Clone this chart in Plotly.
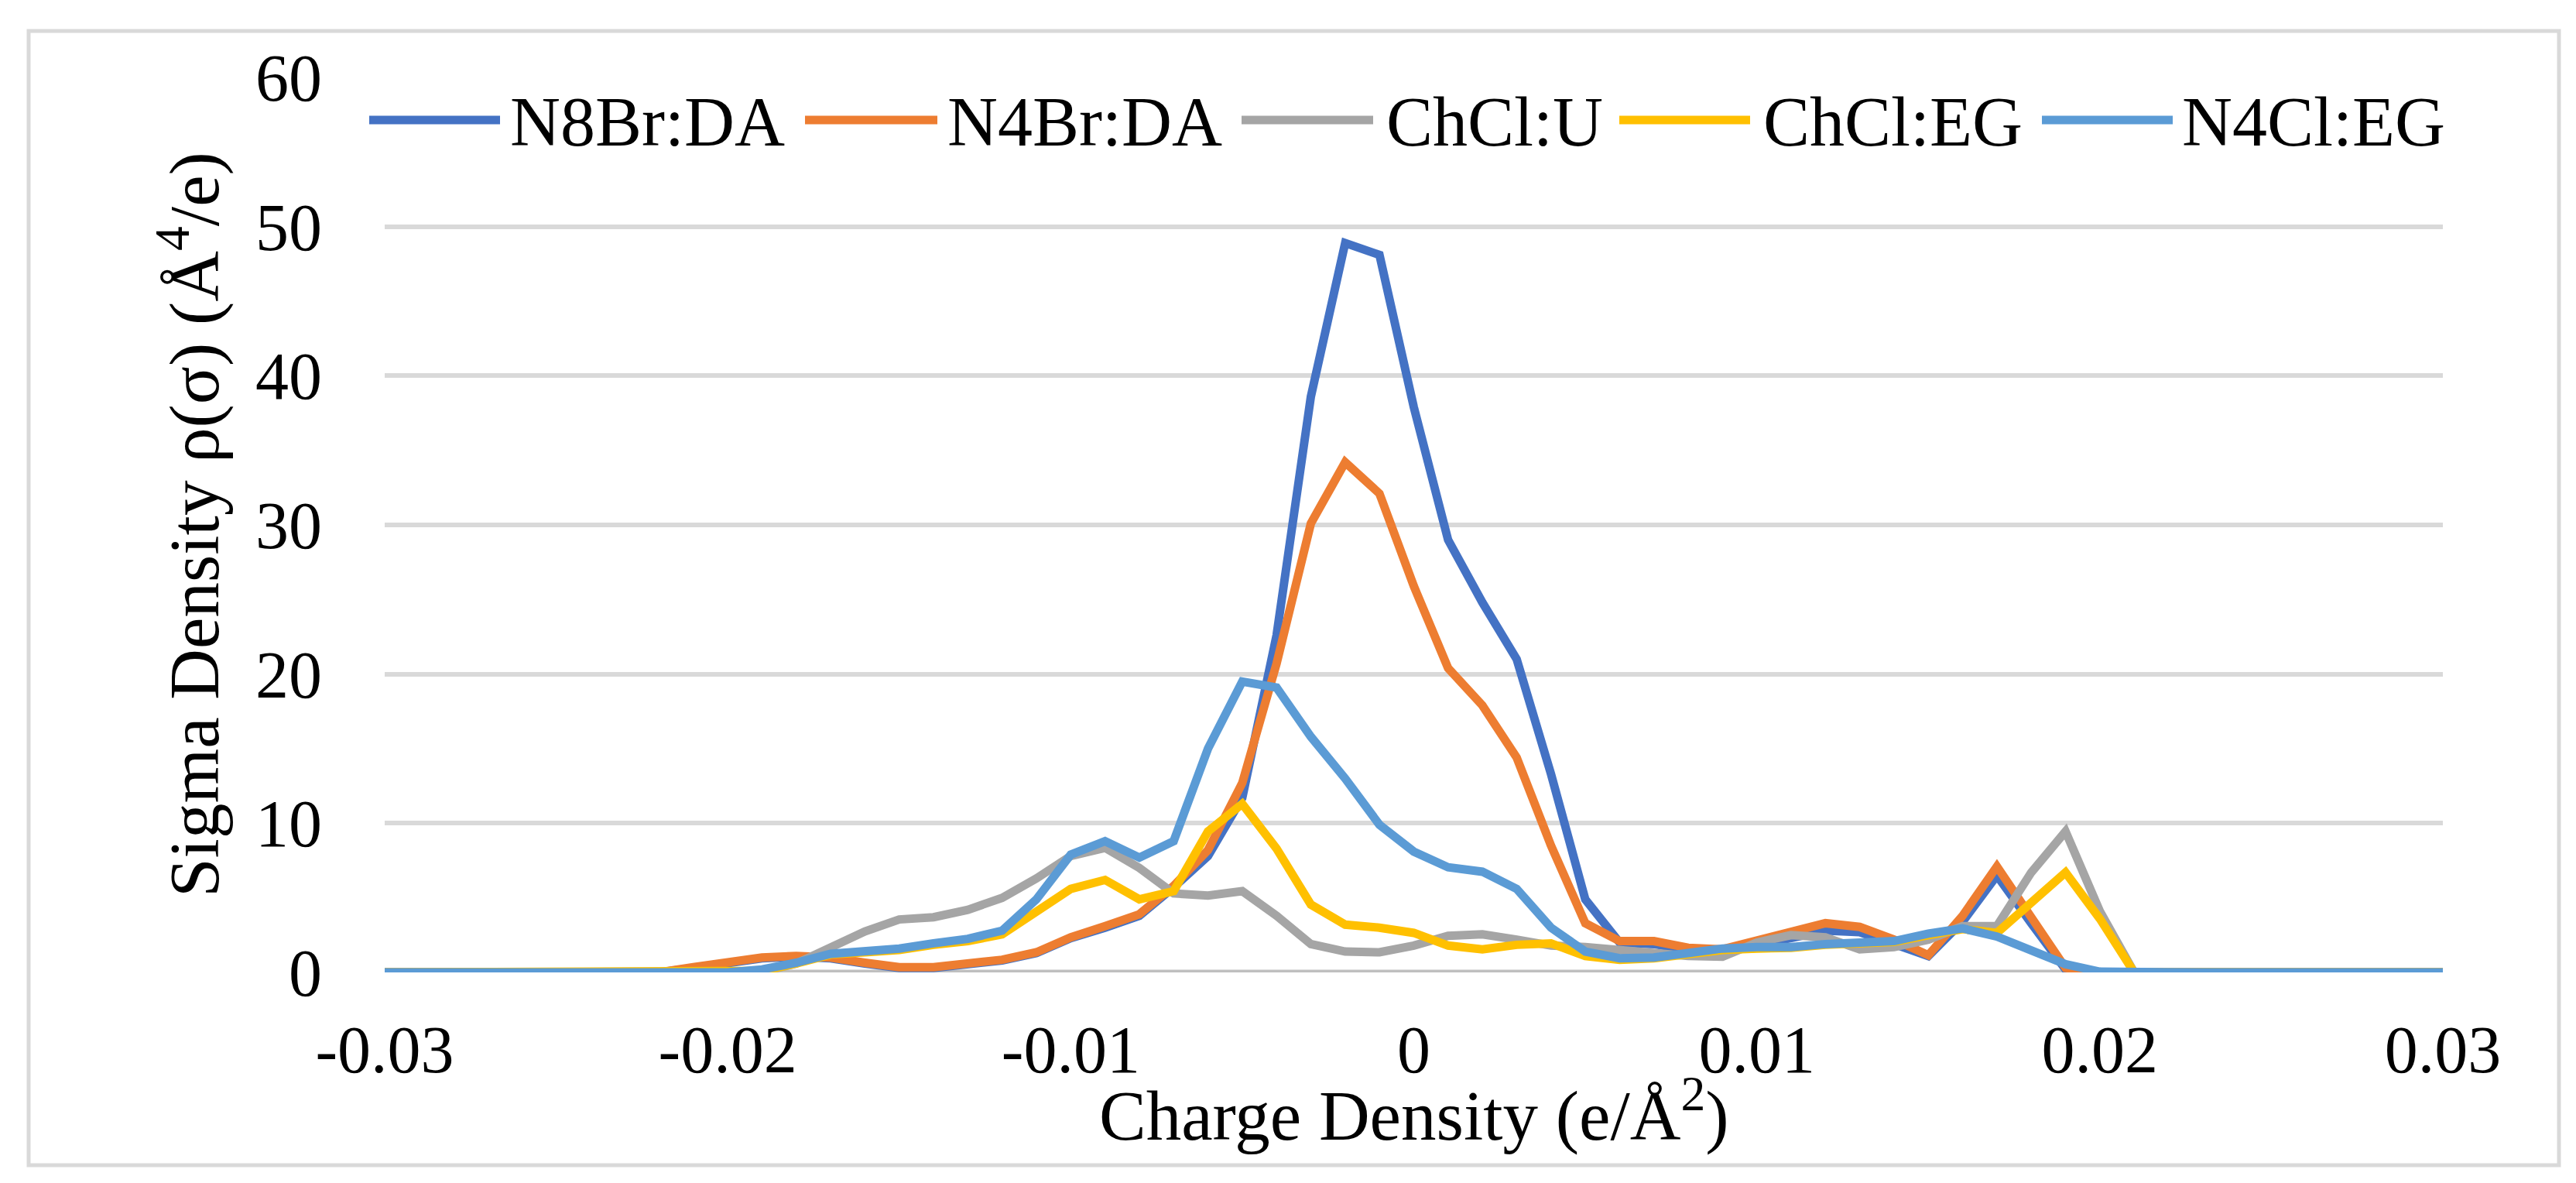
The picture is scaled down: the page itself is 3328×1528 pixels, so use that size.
import plotly.graph_objects as go

# ---------------- data ----------------
sigma = [-0.030, -0.029, -0.028, -0.027, -0.026, -0.025, -0.024, -0.023, -0.022, -0.021,
         -0.020, -0.019, -0.018, -0.017, -0.016, -0.015, -0.014, -0.013, -0.012, -0.011,
         -0.010, -0.009, -0.008, -0.007, -0.006, -0.005, -0.004, -0.003, -0.002, -0.001,
         0.000, 0.001, 0.002, 0.003, 0.004, 0.005, 0.006, 0.007, 0.008, 0.009,
         0.010, 0.011, 0.012, 0.013, 0.014, 0.015, 0.016, 0.017, 0.018, 0.019,
         0.020, 0.021, 0.022, 0.023, 0.024, 0.025, 0.026, 0.027, 0.028, 0.029, 0.030]

n8br_da = [0, 0, 0, 0, 0, 0, 0, 0, 0, 0.3,
           0.65, 0.95, 1.05, 0.95, 0.6, 0.3, 0.3, 0.55, 0.8, 1.3,
           2.3, 3.0, 3.8, 5.7, 7.8, 11.7, 22.6, 38.6, 48.9, 48.1,
           37.9, 29.0, 24.8, 21.0, 13.3, 4.9, 2.0, 1.9, 1.5, 1.4,
           1.8, 2.3, 2.8, 2.7, 1.9, 1.1, 3.4, 6.5, 3.3, 0.2,
           0, 0, 0, 0, 0, 0, 0, 0, 0, 0, 0]

n4br_da = [0, 0, 0, 0, 0, 0, 0, 0, 0, 0.35,
           0.7, 1.0, 1.1, 1.0, 0.65, 0.35, 0.35, 0.6, 0.85, 1.35,
           2.35, 3.1, 3.9, 5.8, 8.2, 12.7, 20.7, 30.1, 34.2, 32.1,
           25.9, 20.4, 17.9, 14.4, 8.5, 3.3, 2.1, 2.1, 1.65, 1.55,
           2.1, 2.7, 3.3, 3.05, 2.2, 1.15, 3.8, 7.1, 3.75, 0.3,
           0, 0, 0, 0, 0, 0, 0, 0, 0, 0, 0]

chcl_u = [0, 0, 0, 0, 0, 0, 0, 0, 0, 0,
          0, 0.05, 0.6, 1.6, 2.75, 3.55, 3.7, 4.2, 5.0, 6.3,
          7.8, 8.35, 7.0, 5.3, 5.15, 5.45, 3.8, 1.9, 1.4, 1.35,
          1.8, 2.45, 2.55, 2.2, 1.8, 1.7, 1.45, 1.3, 1.1, 1.05,
          2.0, 2.5, 2.35, 1.55, 1.7, 2.2, 3.1, 3.1, 6.7, 9.45,
          4.1, 0, 0, 0, 0, 0, 0, 0, 0, 0, 0]

chcl_eg = [0, 0, 0, 0, 0, 0, 0, 0, 0, 0,
           0, 0.1, 0.6, 1.2, 1.35, 1.5, 1.85, 2.1, 2.55, 4.0,
           5.6, 6.2, 4.9, 5.45, 9.45, 11.3, 8.3, 4.55, 3.2, 3.0,
           2.65, 1.8, 1.55, 1.85, 1.95, 1.1, 0.85, 0.95, 1.2, 1.5,
           1.6, 1.65, 1.85, 1.95, 2.05, 2.5, 2.9, 2.65, 4.7, 6.7,
           3.6, 0, 0, 0, 0, 0, 0, 0, 0, 0, 0]

n4cl_eg = [0, 0, 0, 0, 0, 0, 0, 0, 0, 0,
           0, 0.2, 0.65, 1.25, 1.4, 1.6, 1.95, 2.25, 2.8, 4.9,
           7.9, 8.8, 7.7, 8.8, 15.0, 19.5, 19.1, 15.8, 13.0, 9.9,
           8.1, 7.05, 6.75, 5.6, 3.0, 1.4, 0.95, 1.0, 1.3, 1.6,
           1.7, 1.7, 1.9, 2.0, 2.1, 2.6, 2.95, 2.4, 1.4, 0.55,
           0.05, 0, 0, 0, 0, 0, 0, 0, 0, 0, 0]

series_names = ["N8Br:DA", "N4Br:DA", "ChCl:U", "ChCl:EG", "N4Cl:EG"]
series_values = [n8br_da, n4br_da, chcl_u, chcl_eg, n4cl_eg]

x_tick_vals = [-0.03, -0.02, -0.01, 0, 0.01, 0.02, 0.03]
x_tick_text = ["-0.03", "-0.02", "-0.01", "0", "0.01", "0.02", "0.03"]
y_tick_vals = [0, 10, 20, 30, 40, 50, 60]
y_tick_text = ["0", "10", "20", "30", "40", "50", "60"]

x_title = "Charge Density (e/Å<sup>2</sup>)"
y_title = "Sigma Density ρ(σ) (Å<sup>4</sup>/e)"

# ---------------- style ----------------
colors = ["#4472C4", "#ED7D31", "#A5A5A5", "#FFC000", "#5B9BD5"]
FONT = "Liberation Serif, Times New Roman, serif"
W, H = 3328, 1528
L, R, T, B = 489, 3148, 92, 1248   # plot area pixel edges
PW, PH = R - L, B - T


def px(xp):
    return (xp - L) / PW


def py(yp):
    return (B - yp) / PH


fig = go.Figure()
for name, vals, col in zip(series_names, series_values, colors):
    fig.add_trace(go.Scatter(x=sigma, y=vals, mode="lines", name=name,
                             line=dict(color=col, width=11), showlegend=False,
                             hoverinfo="skip"))

shapes = []
# outer frame
shapes.append(dict(type="rect", xref="paper", yref="paper",
                   x0=px(29), x1=px(3298), y0=py(1497), y1=py(32),
                   line=dict(color="#D9D9D9", width=5), fillcolor="rgba(0,0,0,0)",
                   layer="below"))
# horizontal axis line at 0
shapes.append(dict(type="line", xref="x", yref="y", x0=-0.03, x1=0.03, y0=0, y1=0,
                   line=dict(color="#BFBFBF", width=7), layer="below"))

annotations = []
# custom legend
legend_items = [(469, 638, 649), (1032, 1203, 1214), (1596, 1766, 1781),
                (2084, 2253, 2268), (2630, 2799, 2809)]
leg_y = 147
for (x0, x1, xt), name, col in zip(legend_items, series_names, colors):
    shapes.append(dict(type="line", xref="paper", yref="paper",
                       x0=px(x0), x1=px(x1), y0=py(leg_y), y1=py(leg_y),
                       line=dict(color=col, width=11)))
    annotations.append(dict(text=name, xref="paper", yref="paper",
                            x=px(xt), y=py(leg_y + 2), xanchor="left", yanchor="middle",
                            showarrow=False, font=dict(family=FONT, size=90, color="black")))

# axis titles
annotations.append(dict(text=x_title, xref="paper", yref="paper",
                        x=0.5, y=py(1426), xanchor="center", yanchor="middle",
                        showarrow=False, font=dict(family=FONT, size=91, color="black")))
annotations.append(dict(text=y_title, xref="paper", yref="paper",
                        x=px(236), y=0.5, xanchor="center", yanchor="middle",
                        textangle=-90, showarrow=False,
                        font=dict(family=FONT, size=91, color="black")))

fig.update_layout(
    width=W, height=H,
    margin=dict(l=L, r=W - R, t=T, b=H - B, pad=0),
    paper_bgcolor="white", plot_bgcolor="white",
    showlegend=False,
    shapes=shapes, annotations=annotations,
    xaxis=dict(range=[-0.03, 0.03], tickvals=x_tick_vals, ticktext=x_tick_text,
               showgrid=False, zeroline=False, showline=False, ticks="",
               ticklabelstandoff=42,
               tickfont=dict(family=FONT, size=86, color="black")),
    yaxis=dict(range=[0, 60], tickvals=y_tick_vals, ticktext=y_tick_text,
               showgrid=True, gridcolor="#D9D9D9", gridwidth=6,
               zeroline=False, showline=False, ticks="",
               ticklabelstandoff=80,
               tickfont=dict(family=FONT, size=86, color="black")),
)

fig.write_html("out.html")
